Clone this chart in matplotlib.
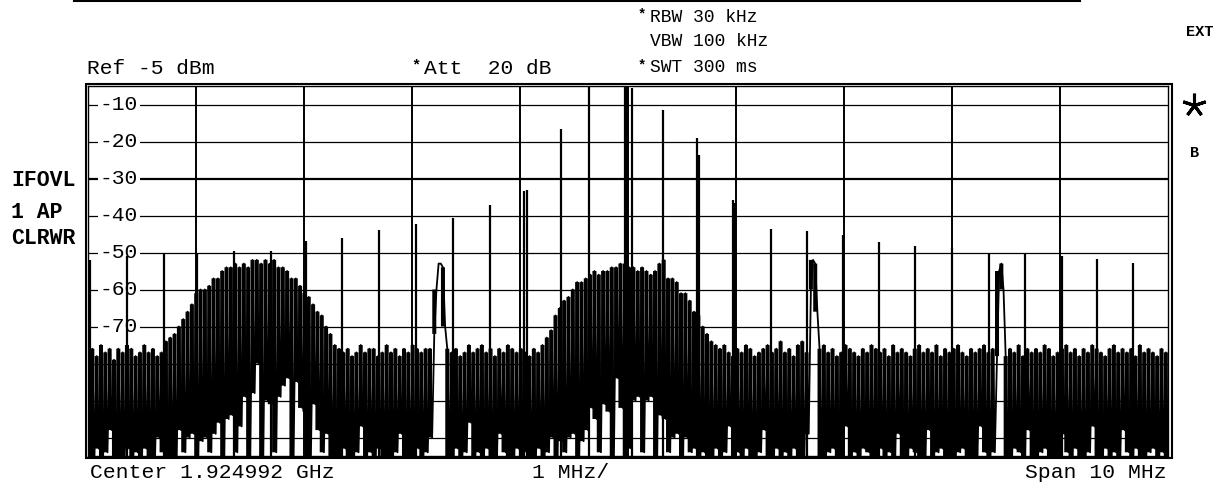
import numpy as np
import matplotlib
matplotlib.use('Agg')
import matplotlib.pyplot as plt
from matplotlib.patches import Rectangle
from matplotlib.lines import Line2D

# sweep: 500 points, offset from centre in MHz
n_points = 500
span_mhz = 10.0

# local maxima of the trace (even sweep points), dBm
peak_db = [
    -77, -76, -78, -75, -77, -76, -79, -76, -77, -75,
    -76, -78, -77, -75, -77, -76, -78, -77, -74, -73,
    -72, -70, -68, -66, -64, -61, -60, -60, -59, -57,
    -57, -55, -54, -54, -53, -54, -53, -54, -52, -52,
    -53, -52, -53, -52, -54, -54, -55, -57, -57, -59,
    -61, -62, -64, -66, -67, -70, -72, -75, -76, -77,
    -76, -78, -77, -75, -77, -76, -76, -78, -77, -75,
    -77, -76, -78, -76, -77, -75, -76, -77, -76, -76,
    -72, -53, -54, -76, -77, -76, -78, -77, -75, -77,
    -76, -75, -77, -76, -78, -76, -77, -75, -76, -77,
    -76, -77, -78, -76, -77, -75, -73, -71, -67, -65,
    -63, -62, -60, -58, -58, -57, -56, -55, -56, -55,
    -55, -54, -54, -53, -53, -54, -54, -55, -54, -55,
    -56, -55, -53, -52, -57, -57, -58, -61, -61, -63,
    -66, -67, -70, -72, -74, -75, -76, -75, -77, -78,
    -76, -77, -75, -76, -78, -77, -76, -75, -77, -76,
    -74, -77, -76, -78, -75, -74, -77, -60, -53, -76,
    -75, -77, -76, -78, -77, -75, -76, -77, -78, -76,
    -77, -75, -76, -77, -76, -78, -75, -77, -76, -77,
    -78, -76, -75, -77, -76, -77, -75, -78, -76, -77,
    -76, -75, -77, -78, -76, -77, -76, -75, -77, -76,
    -78, -53, -78, -76, -77, -75, -78, -76, -77, -76,
    -77, -75, -76, -78, -77, -76, -75, -77, -76, -78,
    -76, -77, -75, -76, -77, -78, -76, -75, -77, -76,
    -77, -76, -78, -75, -77, -76, -77, -78, -76, -77,
]

# local minima of the trace (odd sweep points), dBm
dip_db = [
    -105, -105, -103, -105, -104, -98, -105, -105, -105, -103,
    -105, -104, -105, -103, -105, -105, -100, -104, -105, -105,
    -105, -98, -104, -100, -99, -105, -101, -100, -104, -99,
    -96, -105, -95, -94, -104, -97, -89, -105, -88, -80,
    -105, -90, -91, -104, -89, -86, -84, -105, -85, -92,
    -93, -105, -91, -98, -104, -99, -105, -105, -105, -103,
    -105, -105, -104, -97, -105, -104, -105, -103, -105, -105,
    -105, -104, -99, -105, -105, -105, -103, -105, -104, -100,
    -60, -53, -70, -105, -105, -103, -105, -104, -96, -105,
    -104, -105, -103, -105, -105, -99, -104, -105, -105, -103,
    -105, -104, -105, -105, -103, -105, -104, -100, -105, -101,
    -104, -100, -99, -105, -101, -98, -92, -95, -104, -91,
    -93, -105, -84, -92, -105, -103, -90, -89, -104, -90,
    -89, -105, -94, -95, -104, -100, -99, -105, -100, -104,
    -103, -105, -104, -105, -105, -103, -105, -104, -97, -105,
    -104, -105, -103, -105, -105, -104, -98, -105, -105, -103,
    -105, -104, -105, -103, -105, -105, -99, -52, -66, -105,
    -105, -104, -103, -105, -105, -97, -105, -104, -105, -103,
    -104, -105, -105, -103, -105, -104, -105, -99, -105, -105,
    -103, -104, -105, -105, -98, -105, -104, -103, -105, -105,
    -105, -104, -103, -105, -105, -105, -97, -104, -105, -104,
    -55, -60, -105, -105, -103, -104, -105, -98, -105, -105,
    -104, -103, -105, -105, -105, -99, -104, -105, -103, -105,
    -105, -104, -97, -105, -105, -103, -105, -104, -105, -98,
    -104, -105, -103, -105, -105, -104, -103, -105, -104, -105,
]

# discrete spurs: offset (MHz) and level (dBm)
spur_mhz = [-4.98, -4.64, -4.30, -3.99, -3.65, -3.31, -2.98, -2.65, -2.31,
            -1.96, -1.62, -1.28, -0.963, -0.935, -0.62, -0.36, -0.028,
            -0.01, 0.034, 0.32, 0.636, 0.66, 0.975, 0.99, 1.32, 1.66,
            1.99, 2.32, 2.66, 3.00, 3.34, 3.68, 4.02, 4.34, 4.68]
spur_db = [-52, -51, -50, -50, -49.5, -49.5, -47, -46, -44,
           -42.4, -40.6, -37.2, -33.5, -33, -16.7, -3, -3,
           -3, -5.5, -11.5, -19.1, -23.6, -35.8, -36.5, -43.6, -44.1,
           -45.4, -47.1, -48.2, -48.9, -50, -50, -51, -51.8, -52.9]

level_labels = [-10, -20, -30, -40, -50, -60, -70]

W, H = 1224, 484
MONO = 'Liberation Mono'


def fx(px):
    return px / W


def fy(py):
    return 1 - py / H


def ftext(x, y, s, **kw):
    kw.setdefault('family', MONO)
    kw.setdefault('va', 'center')
    fig.text(fx(x), fy(y), s, **kw)


fig = plt.figure(figsize=(W / 100, H / 100), dpi=100)
ax = fig.add_axes([fx(88), fy(456), fx(1168) - fx(88), fy(86) - fy(456)])
ax.set_xlim(-span_mhz / 2, span_mhz / 2)
ax.set_ylim(-105, -5)
ax.set_xticks([])
ax.set_yticks([])
for sp in ax.spines.values():
    sp.set_linewidth(1.0)

# graticule
for f in range(-4, 5):
    ax.axvline(f, color='black', lw=1.4, zorder=1)
for db in range(-100, -5, 10):
    ax.axhline(db, color='black', lw=1.6 if db == -30 else 0.9, zorder=1)

for db in level_labels:
    ax.text(-4.89, db, str(db), va='center', ha='left', fontsize=15.3,
            family=MONO, zorder=2,
            bbox=dict(fc='white', ec='none', pad=1.0))

# trace: each display column spans its dip..peak, joined by the sweep line
freq = np.linspace(-span_mhz / 2, span_mhz / 2, n_points)
trace = np.empty(n_points)
trace[0::2] = peak_db
trace[1::2] = dip_db
cols = ax.vlines(freq[0::2], dip_db, peak_db, color='black', lw=2.9, zorder=3)
cols.set_snap(False)
ax.plot(freq, trace, color='black', lw=1.3, zorder=3)
ax.vlines(spur_mhz, -105, spur_db, color='black', lw=1.6, zorder=3)

# outer frame and top rule
fig.add_artist(Rectangle((fx(85.5), fy(458)), fx(1171.5) - fx(85.5),
                         fy(84) - fy(458), fill=False, ec='black', lw=1.5))
fig.add_artist(Line2D([fx(74), fx(1080)], [fy(1), fy(1)], color='black', lw=1.5))

# header
ftext(87, 68, 'Ref -5 dBm', fontsize=15.3)
ftext(411, 65, '*', fontsize=11, fontweight='bold')
ftext(424, 68, 'Att  20 dB', fontsize=15.3)
ftext(638, 14, '*', fontsize=10, fontweight='bold')
ftext(650, 17, 'RBW 30 kHz', fontsize=13)
ftext(650, 42, 'VBW 100 kHz', fontsize=13)
ftext(638, 65, '*', fontsize=10, fontweight='bold')
ftext(650, 68, 'SWT 300 ms', fontsize=13)
ftext(1186, 32, 'EXT', fontsize=11, fontweight='bold')
fig.add_artist(Line2D([fx(1194)], [fy(105)], marker=(5, 2, 0), ms=17,
                      mew=2.2, color='black'))
ftext(1190, 153, 'B', fontsize=11, fontweight='bold')

# left status
ftext(11, 180, 'IFOVL', fontsize=15.5, fontweight='bold')
ftext(11, 212, '1 AP', fontsize=15.5, fontweight='bold')
ftext(11, 238, 'CLRWR', fontsize=15.5, fontweight='bold')

# footer
ftext(90, 473, 'Center 1.924992 GHz', fontsize=15.4)
ftext(571, 473, '1 MHz/', fontsize=15.4, ha='center')
ftext(1167, 473, 'Span 10 MHz', fontsize=15.4, ha='right')

fig.savefig('out.png', dpi=100)
